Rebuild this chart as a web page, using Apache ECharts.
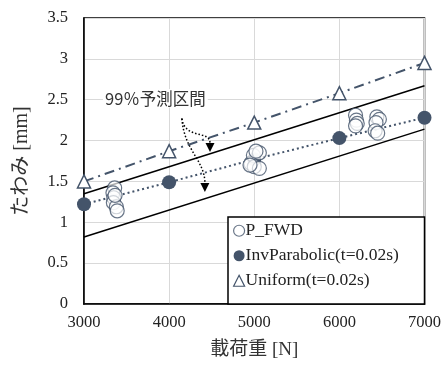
<!DOCTYPE html>
<html><head><meta charset="utf-8">
<script src="https://cdn.jsdelivr.net/npm/echarts@6/dist/echarts.min.js"></script>
<style>html,body{margin:0;padding:0;background:#fff}#c{width:444px;height:369px}</style>
</head><body><div id="c"></div>
<script>
const loads = [3000, 4000, 5000, 6000, 7000];
const invParabolic = [1.22, 1.49, 1.77, 2.03, 2.28];
const uniform = [1.50, 1.87, 2.22, 2.58, 2.95];
const pfwd = [
  [3360,1.42],[3340,1.36],[3350,1.30],[3345,1.24],[3380,1.19],[3390,1.14],[3365,1.33],
  [4960,1.72],[4990,1.82],[5060,1.85],[5020,1.87],[5000,1.68],[5060,1.66],[4950,1.70],
  [6190,2.31],[6200,2.25],[6210,2.21],[6190,2.18],
  [6440,2.29],[6470,2.26],[6430,2.22],[6420,2.12],[6450,2.09]
];
const piUpper = [[3000,1.35],[7000,2.67]];
const piLower = [[3000,0.82],[7000,2.14]];
const xTicks = ['3000','4000','5000','6000','7000'];
const yTicks = ['0','0.5','1','1.5','2','2.5','3','3.5'];
const annotationText = '99％予測区間';
const arrow1 = [[4150,2.27],[4185,2.01],[4480,2.13],[4480,1.86]];
const arrow2 = [[4150,2.27],[4175,1.88],[4420,1.76],[4420,1.37]];

const navy = '#44546a';
const serif = '"Liberation Serif", "Times New Roman", "Noto Sans CJK JP", serif';
const chart = echarts.init(document.getElementById('c'));
chart.setOption({
  animation: false,
  grid: {left: 84, right: 19, top: 18, bottom: 65, show: true, borderColor: '#000', borderWidth: 1.5},
  xAxis: {
    type: 'value', min: 3000, max: 7000, interval: 1000,
    name: '載荷重 [N]', nameLocation: 'middle', nameGap: 37,
    nameTextStyle: {fontFamily: serif, fontSize: 19, color: '#333'},
    axisLine: {show: true, lineStyle: {color: '#000', width: 1.5}},
    axisTick: {show: false},
    axisLabel: {fontFamily: serif, fontSize: 16.5, color: '#222', margin: 10,
      formatter: v => xTicks[Math.round((v - 3000) / 1000)]},
    splitLine: {lineStyle: {color: '#d9d9d9', width: 1}}
  },
  yAxis: {
    type: 'value', min: 0, max: 3.5, interval: 0.5,
    name: 'たわみ [mm]', nameLocation: 'middle', nameGap: 52,
    nameTextStyle: {fontFamily: serif, fontSize: 20, color: '#333'},
    axisLine: {show: true, lineStyle: {color: '#000', width: 1.5}},
    axisTick: {show: false},
    axisLabel: {fontFamily: serif, fontSize: 16.5, color: '#222', margin: 16,
      formatter: v => yTicks[Math.round(v / 0.5)]},
    splitLine: {lineStyle: {color: '#d9d9d9', width: 1}}
  },
  legend: {
    orient: 'vertical', left: 233, top: 222, z: 8,
    padding: 0, itemGap: 7.5, itemWidth: 11, itemHeight: 11,
    textStyle: {fontFamily: serif, fontSize: 17.5, color: '#222', padding: [0,0,0,-4]},
    data: [
      {name: 'P_FWD', icon: 'circle', itemStyle: {color: '#fff', borderColor: navy, borderWidth: 1.2}},
      {name: 'InvParabolic(t=0.02s)', icon: 'circle', itemStyle: {color: navy}},
      {name: 'Uniform(t=0.02s)', icon: 'triangle', itemStyle: {color: '#fff', borderColor: navy, borderWidth: 1.2}}
    ]
  },
  series: [
    {type: 'line', data: piUpper, symbol: 'none', lineStyle: {color: '#000', width: 1.5}, z: 2, silent: true},
    {type: 'line', data: piLower, symbol: 'none', lineStyle: {color: '#000', width: 1.5}, z: 2, silent: true},
    {name: 'Uniform(t=0.02s)', type: 'line', data: loads.map((x,i)=>[x, uniform[i]]),
      symbol: 'triangle', symbolSize: 13, showAllSymbol: true,
      itemStyle: {color: '#fff', borderColor: navy, borderWidth: 1.5},
      lineStyle: {color: navy, width: 2, type: [10, 5, 2, 5]}, z: 3},
    {name: 'InvParabolic(t=0.02s)', type: 'line', data: loads.map((x,i)=>[x, invParabolic[i]]),
      symbol: 'circle', symbolSize: 14,
      itemStyle: {color: navy, borderColor: navy, borderWidth: 0},
      lineStyle: {color: navy, width: 2, type: [2, 3]}, z: 4},
    {name: 'P_FWD', type: 'scatter', data: pfwd, symbol: 'circle', symbolSize: 14,
      itemStyle: {color: 'rgba(255,255,255,0.85)', borderColor: navy, borderWidth: 1.2}, z: 5}
  ]
});

function px(p){ return chart.convertToPixel({gridIndex: 0}, p); }
function arrowGraphics(pts){
  const P = pts.map(px);
  const end = P[3], prev = P[2];
  const ang = Math.atan2(end[1]-prev[1], end[0]-prev[0]);
  const L = 9, W = 4.5;
  const bx = end[0] - L*Math.cos(ang), by = end[1] - L*Math.sin(ang);
  const nx = -Math.sin(ang), ny = Math.cos(ang);
  return [
    {type: 'bezierCurve', z: 10, shape: {x1: P[0][0], y1: P[0][1], cpx1: P[1][0], cpy1: P[1][1], cpx2: P[2][0], cpy2: P[2][1], x2: bx, y2: by},
      style: {stroke: '#000', lineWidth: 1.5, lineDash: [1.5, 2], fill: null}},
    {type: 'polygon', z: 10, shape: {points: [[end[0], end[1]], [bx + nx*W, by + ny*W], [bx - nx*W, by - ny*W]]},
      style: {fill: '#000'}}
  ];
}
const gBotRight = px([7000, 0]);
chart.setOption({graphic: [
  {type: 'rect', z: 7, shape: {x: 228, y: 217, width: gBotRight[0] - 228, height: gBotRight[1] - 217},
    style: {fill: '#fff', stroke: '#000', lineWidth: 1.5}},
  {type: 'text', z: 11, left: 103, top: 89,
    style: {text: annotationText, fontFamily: '"Noto Sans CJK JP", sans-serif', fontSize: 16.5, fill: '#333',
      backgroundColor: '#fff', padding: [1, 2]}},
  ...arrowGraphics(arrow1),
  ...arrowGraphics(arrow2)
]});
</script></body></html>
